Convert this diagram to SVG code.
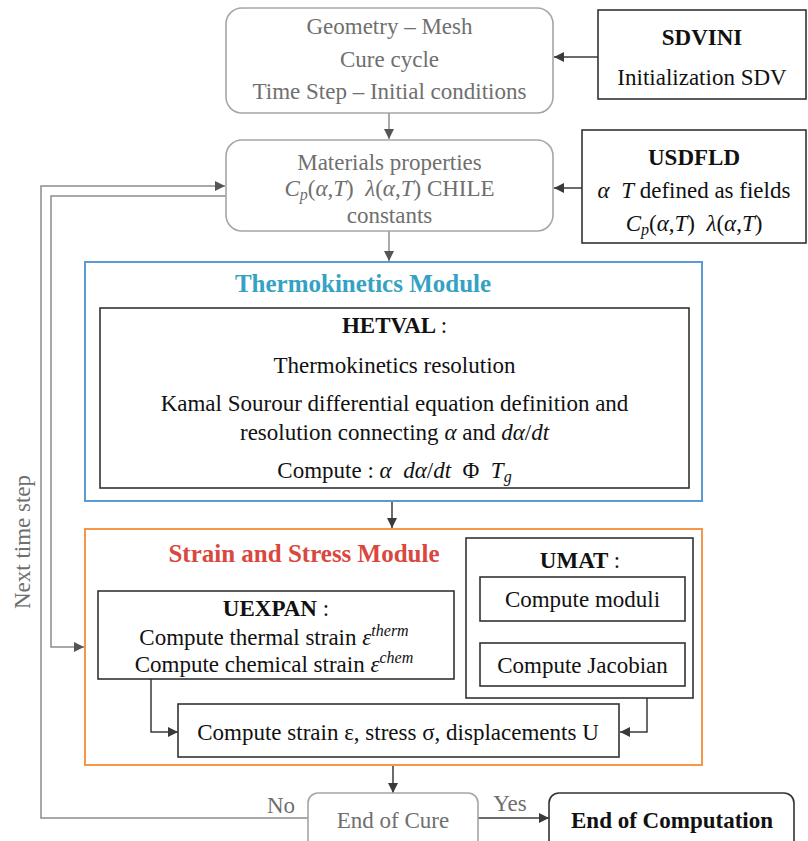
<svg xmlns="http://www.w3.org/2000/svg" width="808" height="841" viewBox="0 0 808 841">
<defs>
<marker id="ah" viewBox="0 0 10 10" refX="10" refY="5" markerWidth="10" markerHeight="10" markerUnits="userSpaceOnUse" orient="auto"><path d="M0,0 L10,5 L0,10 z" fill="#3a3a3a"/></marker>
<marker id="ahg" viewBox="0 0 10 10" refX="10" refY="5" markerWidth="10" markerHeight="10" markerUnits="userSpaceOnUse" orient="auto"><path d="M0,0 L10,5 L0,10 z" fill="#555"/></marker>
</defs>
<style>
text{font-family:"Liberation Serif","Times New Roman",serif;font-size:23px;text-anchor:middle;fill:#111}
.g{fill:#6f6f6f}
.b{font-weight:bold}
.t{font-weight:bold;font-size:25px}
.m{font-style:italic}
.soft{fill:#fff;stroke:#a6a6a6;stroke-width:1.6}
.hard{fill:#fff;stroke:#333;stroke-width:1.6}
.c{fill:none;stroke:#3a3a3a;stroke-width:1.5}
.fb{fill:none;stroke:#8c8c8c;stroke-width:1.5}
</style>
<rect width="808" height="841" fill="#fff"/>
<g id="connectors">
<line class="c" x1="598" y1="57" x2="554" y2="57" marker-end="url(#ah)"/>
<line class="fb" x1="389" y1="113" x2="389" y2="139" marker-end="url(#ahg)"/>
<line class="c" x1="582" y1="188" x2="554" y2="188" marker-end="url(#ah)"/>
<line class="fb" x1="389" y1="231" x2="389" y2="261" marker-end="url(#ahg)"/>
<line class="c" x1="392" y1="501" x2="392" y2="528" marker-end="url(#ah)"/>
<line class="c" x1="582" y1="621" x2="582" y2="643" marker-end="url(#ah)"/>
<polyline class="c" points="151,679 151,732 178,732" marker-end="url(#ah)"/>
<polyline class="c" points="647,698 647,732 620,732" marker-end="url(#ah)"/>
<line class="c" x1="393" y1="765" x2="393" y2="793" marker-end="url(#ah)"/>
<line class="c" x1="478" y1="818" x2="549" y2="818" marker-end="url(#ah)"/>
<polyline class="fb" points="308,818 41,818 41,186 225,186" marker-end="url(#ahg)"/>
<polyline class="fb" points="226,196 51,196 51,647 84,647" marker-end="url(#ahg)"/>
</g>
<g id="geometry">
<rect class="soft" x="226" y="8" width="327" height="105" rx="16"/>
<text class="g" x="389.5" y="34">Geometry – Mesh</text>
<text class="g" x="389.5" y="67">Cure cycle</text>
<text class="g" x="389.5" y="99">Time Step – Initial conditions</text>
</g>
<g id="sdvini">
<rect class="hard" x="598" y="10" width="208" height="89"/>
<text class="b" x="702" y="45">SDVINI</text>
<text x="702" y="85">Initialization SDV</text>
</g>
<g id="materials">
<rect class="soft" x="226" y="140" width="327" height="91" rx="16"/>
<text class="g" x="389.5" y="170">Materials properties</text>
<text class="g" x="389.5" y="196"><tspan class="m">C</tspan><tspan class="m" font-size="16" dy="4">p</tspan><tspan dy="-4">(</tspan><tspan class="m">α</tspan>,<tspan class="m">T</tspan>)&#160;&#160;<tspan class="m">λ</tspan>(<tspan class="m">α</tspan>,<tspan class="m">T</tspan>) CHILE</text>
<text class="g" x="389.5" y="223">constants</text>
</g>
<g id="usdfld">
<rect class="hard" x="582" y="130" width="224" height="113"/>
<text class="b" x="694" y="165">USDFLD</text>
<text x="694" y="198"><tspan class="m">α</tspan>&#160;&#160;<tspan class="m">T</tspan> defined as fields</text>
<text x="694" y="231"><tspan class="m">C</tspan><tspan class="m" font-size="16" dy="4">p</tspan><tspan dy="-4">(</tspan><tspan class="m">α</tspan>,<tspan class="m">T</tspan>)&#160;&#160;<tspan class="m">λ</tspan>(<tspan class="m">α</tspan>,<tspan class="m">T</tspan>)</text>
</g>
<g id="thermokinetics">
<rect x="85" y="262" width="617" height="239" fill="none" stroke="#5b9bd5" stroke-width="2"/>
<text class="t" x="363" y="292" style="fill:#35a2c4">Thermokinetics Module</text>
</g>
<g id="hetval">
<rect class="hard" x="100" y="308" width="589" height="180"/>
<text class="b" x="394.5" y="333">HETVAL <tspan font-weight="normal">:</tspan></text>
<text x="394.5" y="373">Thermokinetics resolution</text>
<text x="394.5" y="411">Kamal Sourour differential equation definition and</text>
<text x="394.5" y="440">resolution connecting <tspan class="m">α</tspan> and <tspan class="m">dα</tspan>/<tspan class="m">dt</tspan></text>
<text x="394.5" y="478">Compute : <tspan class="m">α</tspan>&#160;&#160;<tspan class="m">dα</tspan>/<tspan class="m">dt</tspan>&#160;&#160;Φ&#160;&#160;<tspan class="m">T</tspan><tspan class="m" font-size="16" dy="4">g</tspan></text>
</g>
<g id="strain-stress">
<rect x="85" y="529" width="617" height="236" fill="none" stroke="#f79646" stroke-width="2"/>
<text class="t" x="304" y="562" style="fill:#d9483f">Strain and Stress Module</text>
</g>
<g id="umat">
<rect class="hard" x="466" y="538" width="227" height="160"/>
<text class="b" x="580" y="568">UMAT <tspan font-weight="normal">:</tspan></text>
</g>
<g id="moduli">
<rect class="hard" x="480" y="577" width="205" height="44"/>
<text x="582.5" y="607">Compute moduli</text>
</g>
<g id="jacobian">
<rect class="hard" x="480" y="643" width="205" height="43"/>
<text x="582.5" y="673">Compute Jacobian</text>
</g>
<g id="uexpan">
<rect class="hard" x="98" y="591" width="356" height="88"/>
<text class="b" x="276" y="616">UEXPAN <tspan font-weight="normal">:</tspan></text>
<text x="274" y="645">Compute thermal strain <tspan class="m">ε</tspan><tspan class="m" font-size="16" dy="-9">therm</tspan></text>
<text x="274" y="672">Compute chemical strain <tspan class="m">ε</tspan><tspan class="m" font-size="16" dy="-9">chem</tspan></text>
</g>
<g id="compute-strain">
<rect class="hard" x="178" y="704" width="441" height="53"/>
<text x="398" y="740">Compute strain ε, stress σ, displacements U</text>
</g>
<g id="end-of-cure">
<rect class="soft" x="308" y="793" width="170" height="60" rx="10"/>
<text class="g" x="393" y="828">End of Cure</text>
</g>
<g id="end-of-computation">
<rect class="hard" x="549" y="793" width="245" height="60" rx="10"/>
<text class="b" x="672" y="828">End of Computation</text>
</g>
<g id="labels">
<text class="g" x="281" y="813">No</text>
<text class="g" x="510" y="811">Yes</text>
<text class="g" transform="translate(30,542) rotate(-90)">Next time step</text>
</g>
</svg>
